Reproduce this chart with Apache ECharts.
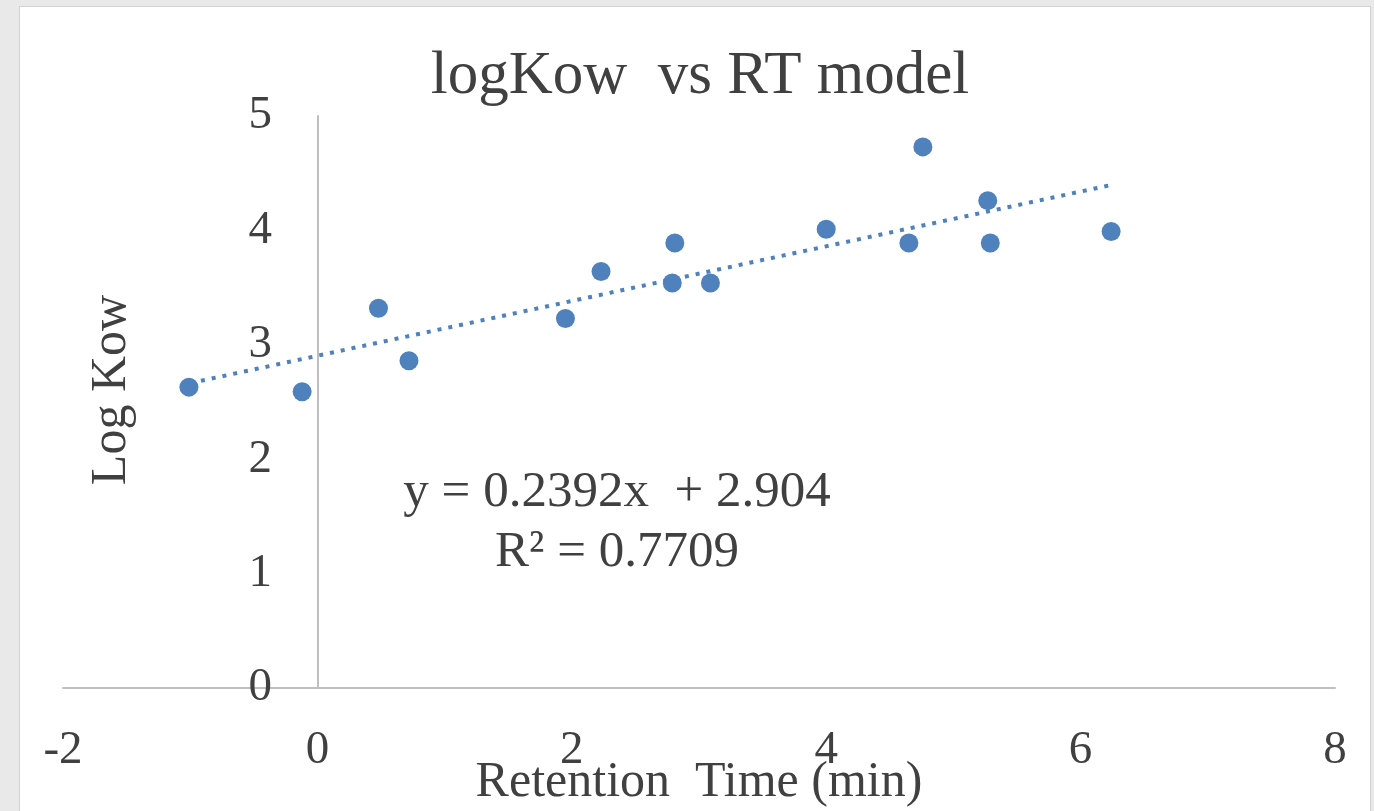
<!DOCTYPE html>
<html>
<head>
<meta charset="utf-8">
<script src="https://cdn.jsdelivr.net/npm/echarts@6/dist/echarts.min.js"></script>
<style>
body { margin:0; background:#e9e9e9; width:1374px; height:811px; overflow:hidden; }
#panel { position:absolute; left:19px; top:6px; width:1350px; height:830px; background:#fff; border:1px solid #d2d2d2; }
#main { position:absolute; left:0; top:0; width:1374px; height:811px; }
</style>
</head>
<body>
<div id="panel"></div>
<div id="main"></div>
<script>
// retention time (min) and log Kow
var rtValues = [-1.01, -0.12, 0.48, 0.72, 1.95, 2.23, 2.79, 2.81, 3.09, 4.00, 4.65, 4.76, 5.27, 5.29, 6.24];
var logKowValues = [2.63, 2.59, 3.32, 2.86, 3.23, 3.64, 3.54, 3.89, 3.54, 4.01, 3.89, 4.73, 4.26, 3.89, 3.99];
// ends of the dotted trend line
var trendX = [-1.0, 6.24];
var trendY = [2.665, 4.397];
var equationText = ['y = 0.2392x  + 2.904', 'R\u00b2 = 0.7709'];

var textColor = '#404040';
var serif = 'Liberation Serif';
var blue = '#4f81bd';

function ScatterChart(idname) {
    this.mychart = echarts.init(document.getElementById(idname));
}

ScatterChart.prototype.draw = function() {
    var points = [];
    for (var i = 0; i < rtValues.length; i++) {
        points.push([rtValues[i], logKowValues[i]]);
    }
    var trend = [];
    for (var j = 0; j < trendX.length; j++) {
        trend.push([trendX[j], trendY[j]]);
    }

    var option = {
        animation: false,
        title: {
            text: 'logKow  vs RT model',
            left: 695,
            textAlign: 'center',
            top: 41,
            textStyle: {
                color: textColor,
                fontFamily: serif,
                fontWeight: 'normal',
                fontSize: 61
            }
        },
        grid: {
            left: 63,
            right: 39,
            top: 116,
            bottom: 123,
            outerBoundsMode: 'none'
        },
        xAxis: {
            type: 'value',
            min: -2,
            max: 8,
            interval: 2,
            name: 'Retention  Time (min)',
            nameLocation: 'middle',
            nameGap: 70,
            nameMoveOverlap: false,
            nameTextStyle: { color: textColor, fontFamily: serif, fontSize: 50 },
            axisLine: { onZero: true, lineStyle: { color: '#bfbfbf', width: 2 } },
            axisTick: { show: false },
            splitLine: { show: false },
            axisLabel: { color: textColor, fontFamily: serif, fontSize: 47, margin: 39 }
        },
        yAxis: {
            type: 'value',
            min: 0,
            max: 5,
            interval: 1,
            // y axis crosses at x = 0, which is 255px right of the grid's left edge
            offset: -255,
            name: 'Log Kow',
            nameLocation: 'middle',
            nameGap: 181,
            nameMoveOverlap: false,
            nameTextStyle: { color: textColor, fontFamily: serif, fontSize: 50, padding: [0, 0, 0, 24] },
            axisLine: { show: true, onZero: false, lineStyle: { color: '#bfbfbf', width: 2 } },
            axisTick: { show: false },
            splitLine: { show: false },
            axisLabel: { color: textColor, fontFamily: serif, fontSize: 47, margin: 46 }
        },
        graphic: [{
            type: 'text',
            x: 617,
            y: 523,
            style: {
                text: equationText.join('\n'),
                fill: textColor,
                font: '51px "Liberation Serif"',
                textAlign: 'center',
                textVerticalAlign: 'middle',
                lineHeight: 60
            }
        }],
        series: [
            {
                name: 'trend',
                type: 'line',
                data: trend,
                symbol: 'none',
                lineStyle: { color: blue, width: 4, type: [4, 7] },
                z: 1
            },
            {
                name: 'logKow',
                type: 'scatter',
                data: points,
                symbolSize: 19,
                itemStyle: { color: blue, opacity: 1 },
                z: 2
            }
        ]
    };
    this.mychart.setOption(option);
};

var chart = new ScatterChart('main');
chart.draw();
</script>
</body>
</html>
